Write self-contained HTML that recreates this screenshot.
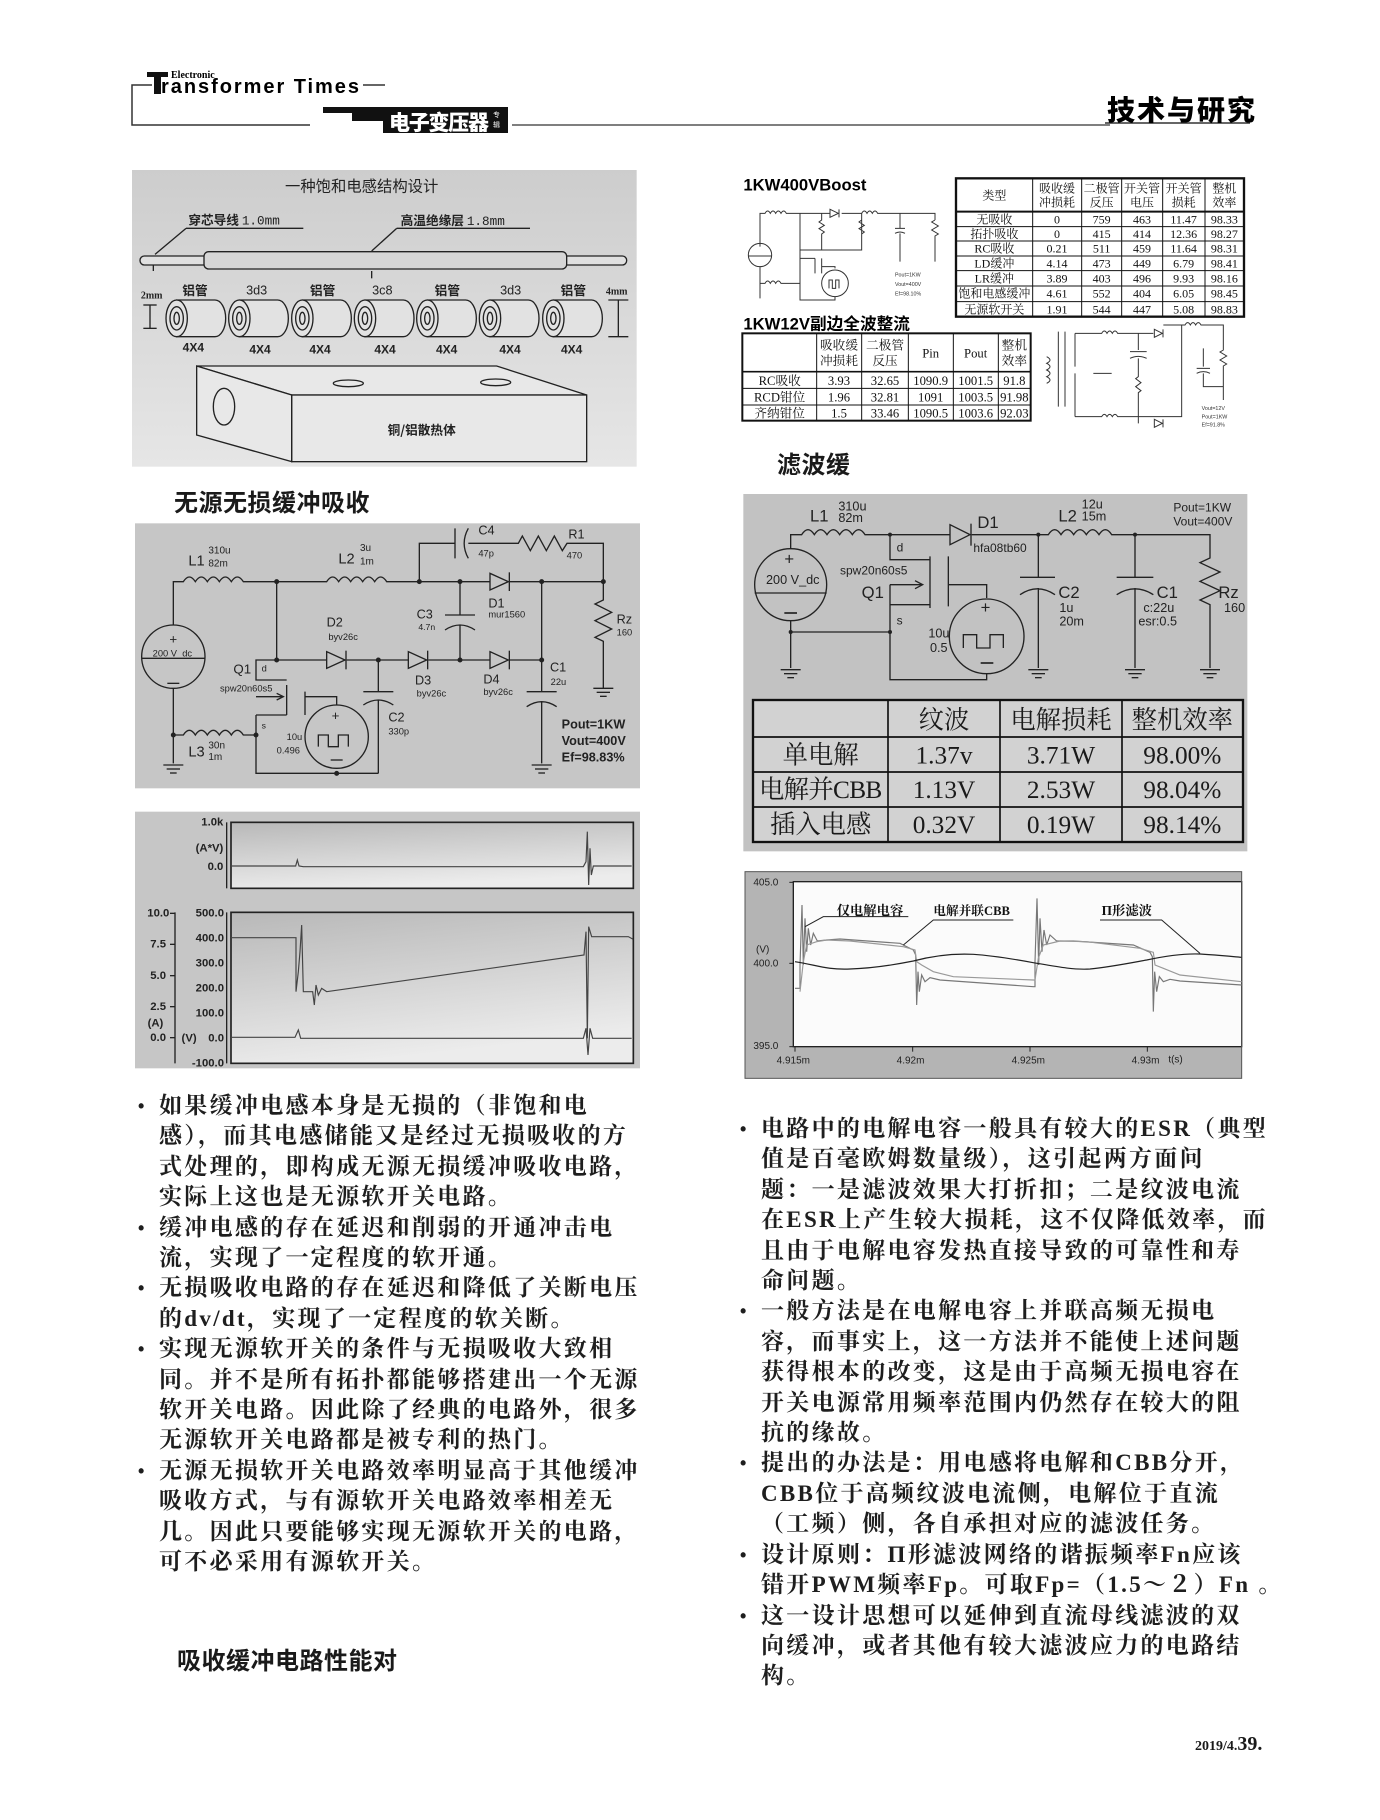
<!DOCTYPE html>
<html><head><meta charset="utf-8">
<style>
html,body{margin:0;padding:0;background:#fff;}
body{width:1380px;height:1820px;position:relative;overflow:hidden;font-family:"Liberation Serif","Noto Serif CJK SC",serif;color:#1a1a1a;}
.abs{position:absolute;}
svg{position:absolute;overflow:visible;}
.para{position:absolute;font-family:"Liberation Serif","Noto Serif CJK SC",serif;font-weight:700;font-size:23px;letter-spacing:2.3px;line-height:30.4px;white-space:nowrap;color:#1e1e1e;}
.para div{position:relative;}
.b{position:absolute;left:-21px;top:0;font-family:"Liberation Sans",sans-serif;font-size:18px;}
.h{position:absolute;font-family:"Liberation Sans","Noto Sans CJK SC",sans-serif;font-weight:700;font-size:24px;letter-spacing:0.5px;white-space:nowrap;color:#1a1a1a;}
</style></head><body>

<!-- HEADER -->
<svg style="left:0;top:0" width="1380" height="140" viewBox="0 0 1380 140">
  <polyline points="152,85 132,85 132,125 310,125" fill="none" stroke="#333" stroke-width="1.5"/>
  <line x1="363" y1="85" x2="385" y2="85" stroke="#333" stroke-width="1.5"/>
  <polygon points="323,107 508,107 508,133 383,133 383,121 352,121 352,113 323,113" fill="#111"/>
  <line x1="512" y1="125" x2="1110" y2="125" stroke="#555" stroke-width="1.5"/>
  <line x1="1105" y1="123" x2="1250" y2="123" stroke="#333" stroke-width="1.5"/>
  <rect x="154" y="72" width="7" height="22" fill="#111"/>
  <rect x="147" y="72" width="21" height="5" fill="#111"/>
  <text x="171" y="78" font-family="Liberation Serif,serif" font-weight="700" font-size="10">Electronic</text>
  <text x="161" y="93" font-family="Liberation Sans,sans-serif" font-weight="700" font-size="20" textLength="198">ransformer Times</text>
  <text x="389" y="130" font-family="Liberation Sans,'Noto Sans CJK SC',sans-serif" font-weight="900" font-size="21" fill="#fff" textLength="100">电子变压器</text>
  <text x="493" y="117" font-family="'Noto Sans CJK SC',sans-serif" font-size="7" fill="#fff">专</text>
  <text x="493" y="127" font-family="'Noto Sans CJK SC',sans-serif" font-size="7" fill="#fff">辑</text>
  <text x="1107" y="120" font-family="'Noto Sans CJK SC',sans-serif" font-weight="900" font-size="28" textLength="148">技术与研究</text>
</svg>

<!-- DIAGRAM 1: saturable inductor -->
<svg style="left:130px;top:165px" width="520" height="310" viewBox="0 0 1560 930">
  <defs><linearGradient id="g1" x1="0" y1="0" x2="0" y2="1"><stop offset="0" stop-color="#cdcdcd"/><stop offset="1" stop-color="#e6e6e6"/></linearGradient></defs>
  <rect x="6" y="15" width="1514" height="890" fill="url(#g1)"/>
  <g font-family="'Noto Sans CJK SC',sans-serif" fill="#222">
  <text x="695" y="80" font-size="46" text-anchor="middle">一种饱和电感结构设计</text>
  <text x="175" y="178" font-size="38" font-weight="700">穿芯导线 <tspan font-family="Liberation Mono,monospace" font-weight="400">1.0mm</tspan></text>
  <text x="812" y="180" font-size="38" font-weight="700">高温绝缘层 <tspan font-family="Liberation Mono,monospace" font-weight="400">1.8mm</tspan></text>
  </g>
  <g stroke="#222" stroke-width="4" fill="none">
   <line x1="168" y1="190" x2="520" y2="190"/><line x1="168" y1="190" x2="75" y2="268"/>
   <line x1="800" y1="190" x2="1200" y2="190"/><line x1="800" y1="190" x2="725" y2="258"/>
   <rect x="30" y="273" width="1460" height="27" rx="13" fill="#e0e0e0"/>
   <rect x="222" y="260" width="1088" height="52" rx="14" fill="#d6d6d6"/>
   <line x1="725" y1="318" x2="725" y2="340"/><line x1="70" y1="300" x2="70" y2="318"/>
   <line x1="40" y1="420" x2="80" y2="420"/><line x1="40" y1="490" x2="80" y2="490"/><line x1="60" y1="420" x2="60" y2="490"/>
   <line x1="1435" y1="405" x2="1495" y2="405"/><line x1="1435" y1="515" x2="1495" y2="515"/><line x1="1465" y1="405" x2="1465" y2="515"/>
  </g>
  <g font-family="'Noto Sans CJK SC',sans-serif" font-weight="700" font-size="38" fill="#222" text-anchor="middle">
   <text x="195" y="390">铝管</text><text x="380" y="388" font-weight="400" font-family="Liberation Sans,sans-serif">3d3</text>
   <text x="578" y="390">铝管</text><text x="757" y="388" font-weight="400" font-family="Liberation Sans,sans-serif">3c8</text>
   <text x="952" y="390">铝管</text><text x="1142" y="388" font-weight="400" font-family="Liberation Sans,sans-serif">3d3</text>
   <text x="1330" y="390">铝管</text>
   <text x="65" y="400" font-size="30" font-family="Liberation Serif,serif">2mm</text>
   <text x="1460" y="388" font-size="30" font-family="Liberation Serif,serif">4mm</text>
   <g font-family="Liberation Sans,sans-serif" font-size="36">
   <text x="190" y="560">4X4</text><text x="390" y="565">4X4</text><text x="570" y="565">4X4</text><text x="765" y="565">4X4</text><text x="950" y="565">4X4</text><text x="1140" y="565">4X4</text><text x="1325" y="565">4X4</text></g>
  </g>
  <g stroke="#222" stroke-width="4" fill="#e2e2e2">
   <g id="cyl"><path d="M140,405 L255,405 A32,55 0 0 1 255,515 L140,515 Z"/><ellipse cx="140" cy="460" rx="32" ry="55"/><ellipse cx="140" cy="460" rx="20" ry="35"/><ellipse cx="140" cy="460" rx="8" ry="18"/></g>
   <use href="#cyl" x="188"/><use href="#cyl" x="377"/><use href="#cyl" x="565"/><use href="#cyl" x="752"/><use href="#cyl" x="940"/><use href="#cyl" x="1130"/>
  </g>
  <g stroke="#222" stroke-width="4" fill="#e8e8e8">
   <polygon points="200,603 1100,603 1370,690 485,690"/>
   <rect x="485" y="690" width="885" height="200"/>
   <polygon points="200,603 485,690 485,890 200,810"/>
   <ellipse cx="655" cy="655" rx="45" ry="10"/><ellipse cx="1097" cy="652" rx="45" ry="10"/>
   <ellipse cx="282" cy="725" rx="32" ry="55"/>
  </g>
  <text x="875" y="808" font-family="'Noto Sans CJK SC',sans-serif" font-weight="700" font-size="38" text-anchor="middle" fill="#222">铜/铝散热体</text>
</svg>

<!-- RIGHT TOP: tables and small circuits -->
<svg style="left:735px;top:170px" width="520" height="265" viewBox="0 0 1560 795">
  <text x="25" y="62" font-family="Liberation Sans,sans-serif" font-weight="700" font-size="50">1KW400VBoost</text>
  <text x="25" y="478" font-family="Liberation Sans,'Noto Sans CJK SC',sans-serif" font-weight="700" font-size="50">1KW12V副边全波整流</text>
  <!-- table1 -->
  <g stroke="#111" fill="none">
   <rect x="663" y="25" width="864" height="415" stroke-width="7"/>
   <g stroke-width="3">
   <line x1="893" y1="25" x2="893" y2="440"/><line x1="1040" y1="25" x2="1040" y2="440"/><line x1="1160" y1="25" x2="1160" y2="440"/><line x1="1283" y1="25" x2="1283" y2="440"/><line x1="1410" y1="25" x2="1410" y2="440"/>
   <line x1="663" y1="125" x2="1527" y2="125" stroke-width="6"/>
   <line x1="663" y1="170" x2="1527" y2="170"/><line x1="663" y1="213" x2="1527" y2="213"/><line x1="663" y1="258" x2="1527" y2="258"/><line x1="663" y1="302" x2="1527" y2="302"/><line x1="663" y1="348" x2="1527" y2="348"/><line x1="663" y1="395" x2="1527" y2="395"/>
   </g>
  </g>
  <g font-family="'Liberation Serif','Noto Serif CJK SC',serif" font-size="36" fill="#111" text-anchor="middle">
   <text x="778" y="88">类型</text>
   <text x="966" y="68">吸收缓</text><text x="966" y="110">冲损耗</text>
   <text x="1100" y="68">二极管</text><text x="1100" y="110">反压</text>
   <text x="1221" y="68">开关管</text><text x="1221" y="110">电压</text>
   <text x="1346" y="68">开关管</text><text x="1346" y="110">损耗</text>
   <text x="1468" y="68">整机</text><text x="1468" y="110">效率</text>
   <g id="r1"></g>
   <text x="778" y="160">无吸收</text><text x="966" y="160">0</text><text x="1100" y="160">759</text><text x="1221" y="160">463</text><text x="1346" y="160">11.47</text><text x="1468" y="160">98.33</text>
   <text x="778" y="204">拓扑吸收</text><text x="966" y="204">0</text><text x="1100" y="204">415</text><text x="1221" y="204">414</text><text x="1346" y="204">12.36</text><text x="1468" y="204">98.27</text>
   <text x="778" y="248">RC吸收</text><text x="966" y="248">0.21</text><text x="1100" y="248">511</text><text x="1221" y="248">459</text><text x="1346" y="248">11.64</text><text x="1468" y="248">98.31</text>
   <text x="778" y="292">LD缓冲</text><text x="966" y="292">4.14</text><text x="1100" y="292">473</text><text x="1221" y="292">449</text><text x="1346" y="292">6.79</text><text x="1468" y="292">98.41</text>
   <text x="778" y="337">LR缓冲</text><text x="966" y="337">3.89</text><text x="1100" y="337">403</text><text x="1221" y="337">496</text><text x="1346" y="337">9.93</text><text x="1468" y="337">98.16</text>
   <text x="778" y="383">饱和电感缓冲</text><text x="966" y="383">4.61</text><text x="1100" y="383">552</text><text x="1221" y="383">404</text><text x="1346" y="383">6.05</text><text x="1468" y="383">98.45</text>
   <text x="778" y="430">无源软开关</text><text x="966" y="430">1.91</text><text x="1100" y="430">544</text><text x="1221" y="430">447</text><text x="1346" y="430">5.08</text><text x="1468" y="430">98.83</text>
  </g>
  <!-- table2 -->
  <g stroke="#111" fill="none">
   <rect x="22" y="490" width="865" height="262" stroke-width="6"/>
   <g stroke-width="3">
   <line x1="245" y1="490" x2="245" y2="752"/><line x1="380" y1="490" x2="380" y2="752"/><line x1="520" y1="490" x2="520" y2="752"/><line x1="655" y1="490" x2="655" y2="752"/><line x1="790" y1="490" x2="790" y2="752"/>
   <line x1="22" y1="605" x2="887" y2="605" stroke-width="5"/><line x1="22" y1="655" x2="887" y2="655"/><line x1="22" y1="705" x2="887" y2="705"/>
   </g>
  </g>
  <g font-family="'Liberation Serif','Noto Serif CJK SC',serif" font-size="38" fill="#111" text-anchor="middle">
   <text x="312" y="538">吸收缓</text><text x="312" y="585">冲损耗</text>
   <text x="450" y="538">二极管</text><text x="450" y="585">反压</text>
   <text x="587" y="562">Pin</text><text x="722" y="562">Pout</text>
   <text x="838" y="538">整机</text><text x="838" y="585">效率</text>
   <text x="134" y="645">RC吸收</text><text x="312" y="645">3.93</text><text x="450" y="645">32.65</text><text x="587" y="645">1090.9</text><text x="722" y="645">1001.5</text><text x="838" y="645">91.8</text>
   <text x="134" y="695">RCD钳位</text><text x="312" y="695">1.96</text><text x="450" y="695">32.81</text><text x="587" y="695">1091</text><text x="722" y="695">1003.5</text><text x="838" y="695">91.98</text>
   <text x="134" y="743">齐纳钳位</text><text x="312" y="743">1.5</text><text x="450" y="743">33.46</text><text x="587" y="743">1090.5</text><text x="722" y="743">1003.6</text><text x="838" y="743">92.03</text>
  </g>
  <!-- small boost circuit -->
  <g stroke="#333" stroke-width="3" fill="none">
   <path d="M75,230 V130 H90 q8,-14 16,0 q8,-14 16,0 q8,-14 16,0 q8,-14 16,0 H285 M320,130 H380 q8,-14 16,0 q8,-14 16,0 q8,-14 16,0 H600 V150 M600,150 l-10,6 20,12 -20,12 20,12 -10,6 V275 M495,130 V175 M480,175 h30 M480,190 q15,-8 30,0 M495,190 V275"/>
   <polygon points="285,118 285,142 310,130"/><line x1="312" y1="118" x2="312" y2="142"/>
   <circle cx="75" cy="255" r="35"/><line x1="40" y1="258" x2="110" y2="258"/>
   <path d="M75,290 V385 M75,340 H90 q8,-14 16,0 q8,-14 16,0 q8,-14 16,0 H195 V130 M195,240 H380 V130 M260,130 V150 l-8,6 16,10 -16,10 16,10 -8,6 V240 M380,150 l-8,6 16,10 -16,10 16,10 -8,6 M195,265 H240 M240,265 V310 M260,265 V310 M260,290 H300 V295"/>
   <circle cx="300" cy="340" r="40"/><path d="M282,355 V330 h10 v25 h10 v-25 h10 v25"/>
   <path d="M195,310 V390 H300 V380"/>
  </g>
  <g font-family="Liberation Sans,sans-serif" font-size="16" fill="#333">
   <text x="480" y="320">Pout=1KW</text><text x="480" y="348">Vout=400V</text><text x="480" y="376">Ef=98.10%</text>
  </g>
  <!-- small rectifier circuit -->
  <g stroke="#333" stroke-width="3" fill="none">
   <path d="M970,485 V710 M990,485 V710 M1020,490 H1100 q8,-14 16,0 q8,-14 16,0 q8,-14 16,0 H1255 M1285,465 H1350 q8,-14 16,0 q8,-14 16,0 q8,-14 16,0 H1465 V540 l-10,6 20,12 -20,12 20,12 -10,6 V690 M1020,740 H1100 q8,-14 16,0 q8,-14 16,0 q8,-14 16,0 H1340 V465 M1210,490 V540 M1185,545 h50 M1185,565 q25,-12 50,0 M1210,565 V620 l-8,6 16,12 -16,12 16,12 -8,6 V760 M1405,535 V590 M1385,595 h40 M1385,610 q20,-10 40,0 M1405,610 V650 H1465 M1020,490 V590 M1020,610 V740 M1075,610 H1130"/>
   <path d="M935,560 q20,10 0,20 q20,10 0,20 q20,10 0,20 q20,10 0,20"/>
   <polygon points="1258,478 1258,502 1282,490"/><line x1="1284" y1="478" x2="1284" y2="502"/>
   <polygon points="1258,748 1258,772 1282,760"/><line x1="1284" y1="748" x2="1284" y2="772"/>
  </g>
  <g font-family="Liberation Sans,sans-serif" font-size="16" fill="#333">
   <text x="1400" y="720">Vout=12V</text><text x="1400" y="745">Pout=1KW</text><text x="1400" y="770">Ef=91.8%</text>
  </g>
</svg>

<!-- headings -->
<div class="h" style="left:777px;top:445px;">滤波缓</div>
<div class="h" style="left:174px;top:483px;">无源无损缓冲吸收</div>
<div class="h" style="left:177px;top:1641px;">吸收缓冲电路性能对</div>

<!-- LEFT CIRCUIT -->
<svg style="left:130px;top:515px" width="520" height="280" viewBox="0 0 1560 840">
  <defs>
   <g id="gnd"><line x1="-30" y1="0" x2="30" y2="0"/><line x1="-20" y1="12" x2="20" y2="12"/><line x1="-10" y1="24" x2="10" y2="24"/></g>
  </defs>
  <rect x="15" y="25" width="1515" height="795" fill="#c6c6c6"/>
  <g stroke="#222" stroke-width="4" fill="none">
   <path d="M130,330 V200 H160 q18,-28 36,0 q18,-28 36,0 q18,-28 36,0 q18,-28 36,0 q18,-28 36,0 H590 q18,-28 36,0 q18,-28 36,0 q18,-28 36,0 q18,-28 36,0 q18,-28 36,0 H1080 M1140,200 H1420"/>
   <polygon points="1080,175 1080,225 1135,200"/><line x1="1138" y1="172" x2="1138" y2="228"/>
   <circle cx="130" cy="425" r="95"/><line x1="35" y1="430" x2="225" y2="430"/>
   <path d="M130,520 V745 M130,660 H160 q18,-28 36,0 q18,-28 36,0 q18,-28 36,0 q18,-28 36,0 q18,-28 36,0 H378"/>
   <path d="M868,200 V85 H975 M975,40 V130 M1015,40 q-25,45 0,90 M1015,85 H1165 l12,-22 24,44 24,-44 24,44 24,-44 24,44 14,-22 H1420 V200"/>
   <path d="M1420,200 V255 l-25,12 50,25 -50,25 50,25 -50,25 25,12 V520"/>
   <path d="M440,200 V435 H590 M650,435 H835 M895,435 H1080 M1140,435 H1235 V530 M1235,200 V435"/>
   <polygon points="590,410 590,460 645,435"/><line x1="648" y1="407" x2="648" y2="463"/>
   <polygon points="835,410 835,460 890,435"/><line x1="893" y1="407" x2="893" y2="463"/>
   <polygon points="1080,410 1080,460 1135,435"/><line x1="1138" y1="407" x2="1138" y2="463"/>
   <path d="M990,200 V300 M945,300 H1035 M945,345 q45,-30 90,0 M990,330 V435"/>
   <path d="M745,435 V530 M700,530 H790 M700,570 q45,-30 90,0 M745,555 V775"/>
   <path d="M1190,530 H1280 M1190,575 q45,-30 90,0 M1235,560 V745"/>
   <path d="M440,435 H378 V495 H470 M470,510 V600 M378,600 H470 M378,600 V775 H745 M378,660 V600 M378,545 H460 M525,530 V600 M525,545 H620 V570"/>
   <polyline points="440,535 460,545 440,555"/>
   <circle cx="620" cy="665" r="95"/>
   <path d="M565,695 V660 h30 v35 h30 v-35 h30 v35"/>
  </g>
  <g stroke="#222" stroke-width="4"><use href="#gnd" x="130" y="750"/><use href="#gnd" x="1420" y="520"/><use href="#gnd" x="1235" y="750"/></g>
  <g fill="#222" stroke="#222" stroke-width="3"><circle cx="440" cy="200" r="6"/><circle cx="868" cy="200" r="6"/><circle cx="990" cy="200" r="6"/><circle cx="1235" cy="200" r="6"/><circle cx="1420" cy="200" r="6"/><circle cx="440" cy="435" r="6"/><circle cx="745" cy="435" r="6"/><circle cx="990" cy="435" r="6"/><circle cx="1235" cy="435" r="6"/><circle cx="130" cy="660" r="6"/><circle cx="378" cy="660" r="6"/><circle cx="620" cy="775" r="6"/></g>
  <g font-family="Liberation Sans,sans-serif" fill="#222">
   <text x="175" y="152" font-size="44">L1</text><text x="235" y="115" font-size="30">310u</text><text x="235" y="155" font-size="30">82m</text>
   <text x="625" y="145" font-size="44">L2</text><text x="690" y="108" font-size="30">3u</text><text x="690" y="148" font-size="30">1m</text>
   <text x="1045" y="58" font-size="38">C4</text><text x="1045" y="125" font-size="28">47p</text>
   <text x="1315" y="70" font-size="38">R1</text><text x="1310" y="130" font-size="28">470</text>
   <text x="1075" y="278" font-size="38">D1</text><text x="1075" y="308" font-size="28">mur1560</text>
   <text x="860" y="310" font-size="38">C3</text><text x="865" y="345" font-size="26">4.7n</text>
   <text x="1460" y="325" font-size="38">Rz</text><text x="1460" y="362" font-size="28">160</text>
   <text x="590" y="335" font-size="38">D2</text><text x="595" y="375" font-size="28">byv26c</text>
   <text x="310" y="475" font-size="40">Q1</text><text x="395" y="470" font-size="28">d</text><text x="270" y="530" font-size="28">spw20n60s5</text><text x="395" y="640" font-size="26">s</text>
   <text x="855" y="508" font-size="38">D3</text><text x="860" y="545" font-size="28">byv26c</text>
   <text x="1060" y="505" font-size="38">D4</text><text x="1060" y="540" font-size="28">byv26c</text>
   <text x="1260" y="470" font-size="38">C1</text><text x="1262" y="510" font-size="28">22u</text>
   <text x="775" y="620" font-size="38">C2</text><text x="775" y="658" font-size="28">330p</text>
   <text x="175" y="725" font-size="44">L3</text><text x="235" y="700" font-size="30">30n</text><text x="235" y="735" font-size="30">1m</text>
   <text x="470" y="675" font-size="28">10u</text><text x="440" y="715" font-size="28">0.496</text>
   <text x="68" y="425" font-size="28">200 V_dc</text>
   <text x="118" y="385" font-size="40">+</text><text x="605" y="615" font-size="40">+</text>
   <text x="1295" y="640" font-size="38" font-weight="700">Pout=1KW</text><text x="1295" y="690" font-size="38" font-weight="700">Vout=400V</text><text x="1295" y="740" font-size="38" font-weight="700">Ef=98.83%</text>
  </g>
  <line x1="112" y1="505" x2="148" y2="505" stroke="#222" stroke-width="4"/><line x1="602" y1="735" x2="638" y2="735" stroke="#222" stroke-width="4"/>
</svg>

<!-- LEFT WAVEFORM -->
<svg style="left:130px;top:805px" width="520" height="270" viewBox="0 0 1560 810">
  <defs><linearGradient id="g2" x1="0" y1="0" x2="0.3" y2="1"><stop offset="0" stop-color="#b8b8b8"/><stop offset="1" stop-color="#ececec"/></linearGradient></defs>
  <rect x="15" y="20" width="1515" height="770" fill="#c6c6c6"/>
  <rect x="303" y="52" width="1207" height="198" fill="url(#g2)" stroke="#222" stroke-width="5"/>
  <rect x="303" y="322" width="1207" height="453" fill="url(#g2)" stroke="#222" stroke-width="5"/>
  <g stroke="#222" stroke-width="4" fill="none">
   <line x1="290" y1="52" x2="290" y2="250"/><line x1="290" y1="322" x2="290" y2="775"/><line x1="135" y1="322" x2="135" y2="775"/>
   <line x1="120" y1="325" x2="135" y2="325"/><line x1="120" y1="418" x2="135" y2="418"/><line x1="120" y1="512" x2="135" y2="512"/><line x1="120" y1="605" x2="135" y2="605"/><line x1="120" y1="698" x2="135" y2="698"/>
  </g>
  <g stroke="#444" stroke-width="3.5" fill="none">
   <path d="M303,183 H497 L502,165 L507,183 L520,185 H1360 L1368,170 L1372,80 L1376,240 L1380,130 L1384,210 L1390,183 H1505"/>
   <path d="M303,398 H498 V560 L505,500 L510,440 L515,360 L520,560 H548 L553,600 L558,540 L565,570 L575,550 L590,560 L1362,450 L1368,380 L1372,700 L1376,365 L1385,395 H1495 L1508,402"/>
   <path d="M303,697 H495 L505,675 L512,700 H1360 L1368,670 L1374,750 L1380,670 L1388,700 H1505"/>
  </g>
  <g font-family="Liberation Sans,sans-serif" font-weight="700" font-size="34" fill="#222" text-anchor="end">
   <text x="280" y="62">1.0k</text><text x="280" y="140">(A*V)</text><text x="280" y="195">0.0</text>
   <text x="282" y="335">500.0</text><text x="282" y="410">400.0</text><text x="282" y="485">300.0</text><text x="282" y="560">200.0</text><text x="282" y="635">100.0</text><text x="282" y="710"><tspan x="200" text-anchor="end">(V)</tspan><tspan x="282">0.0</tspan></text><text x="282" y="785">-100.0</text>
   <text x="118" y="335">10.0</text><text x="108" y="428">7.5</text><text x="108" y="522">5.0</text><text x="108" y="615">2.5</text><text x="100" y="665">(A)</text><text x="108" y="708">0.0</text>
  </g>
</svg>

<!-- RIGHT CIRCUIT + TABLE -->
<svg style="left:740px;top:488px" width="520" height="365" viewBox="0 0 1560 1095">
  <defs>
   <g id="gnd2"><line x1="-30" y1="0" x2="30" y2="0"/><line x1="-20" y1="12" x2="20" y2="12"/><line x1="-10" y1="24" x2="10" y2="24"/></g>
  </defs>
  <rect x="10" y="18" width="1512" height="1072" fill="#c2c2c2"/>
  <g stroke="#222" stroke-width="4" fill="none">
   <circle cx="152" cy="290" r="108"/><line x1="44" y1="315" x2="260" y2="315"/>
   <path d="M152,182 V140 H185 q19,-30 38,0 q19,-30 38,0 q19,-30 38,0 q19,-30 38,0 q19,-30 38,0 H630 M695,140 H925 q19,-30 38,0 q19,-30 38,0 q19,-30 38,0 q19,-30 38,0 q19,-30 38,0 H1410 V210 l-30,14 60,28 -60,28 60,28 -60,28 30,14 V540"/>
   <polygon points="630,110 630,170 690,140"/><line x1="693" y1="107" x2="693" y2="173"/>
   <path d="M450,140 V215 H570 M570,205 V360 M625,205 V355 M625,290 H740 V330 M450,290 H545 M450,350 H570 M450,290 V575 H740 V555"/>
   <polyline points="525,278 548,290 525,302"/>
   <circle cx="740" cy="445" r="112"/>
   <path d="M670,480 V440 h40 v40 h40 v-40 h40 v40"/>
   <path d="M152,398 V540 M152,432 H450"/>
   <path d="M895,140 V268 M840,268 H945 M840,320 q52,-35 105,0 M895,300 V540"/>
   <path d="M1185,140 V268 M1130,268 H1240 M1130,320 q55,-35 110,0 M1185,300 V540"/>
  </g>
  <g stroke="#222" stroke-width="4"><use href="#gnd2" x="152" y="545"/><use href="#gnd2" x="895" y="545"/><use href="#gnd2" x="1185" y="545"/><use href="#gnd2" x="1410" y="545"/></g>
  <g fill="#222"><circle cx="450" cy="140" r="6"/><circle cx="895" cy="140" r="6"/><circle cx="1185" cy="140" r="6"/><circle cx="152" cy="432" r="6"/><circle cx="450" cy="432" r="6"/></g>
  <g font-family="Liberation Sans,sans-serif" fill="#222">
   <text x="210" y="100" font-size="50">L1</text><text x="295" y="68" font-size="38">310u</text><text x="295" y="102" font-size="38">82m</text>
   <text x="712" y="120" font-size="50">D1</text><text x="700" y="192" font-size="36">hfa08tb60</text>
   <text x="955" y="100" font-size="50">L2</text><text x="1025" y="62" font-size="38">12u</text><text x="1025" y="98" font-size="38">15m</text>
   <text x="1300" y="70" font-size="36">Pout=1KW</text><text x="1300" y="112" font-size="36">Vout=400V</text>
   <text x="470" y="190" font-size="36">d</text><text x="300" y="260" font-size="36">spw20n60s5</text>
   <text x="365" y="330" font-size="50">Q1</text><text x="470" y="410" font-size="36">s</text>
   <text x="78" y="288" font-size="38">200 V_dc</text>
   <text x="133" y="230" font-size="50">+</text><line x1="133" y1="375" x2="171" y2="375" stroke="#222" stroke-width="5"/>
   <text x="722" y="375" font-size="50">+</text><line x1="722" y1="525" x2="760" y2="525" stroke="#222" stroke-width="5"/>
   <text x="565" y="448" font-size="38">10u</text><text x="570" y="492" font-size="38">0.5</text>
   <text x="955" y="330" font-size="50">C2</text><text x="958" y="372" font-size="38">1u</text><text x="958" y="412" font-size="38">20m</text>
   <text x="1250" y="330" font-size="50">C1</text><text x="1210" y="372" font-size="38">c:22u</text><text x="1195" y="412" font-size="38">esr:0.5</text>
   <text x="1435" y="330" font-size="50">Rz</text><text x="1452" y="372" font-size="38">160</text>
  </g>
  <!-- table -->
  <rect x="39" y="636" width="1470" height="426" fill="#d2d2d2" stroke="#111" stroke-width="7"/>
  <g stroke="#111" stroke-width="5">
   <line x1="444" y1="636" x2="444" y2="1062"/><line x1="780" y1="636" x2="780" y2="1062"/><line x1="1146" y1="636" x2="1146" y2="1062"/>
   <line x1="39" y1="747" x2="1509" y2="747"/><line x1="39" y1="852" x2="1509" y2="852"/><line x1="39" y1="957" x2="1509" y2="957"/>
  </g>
  <g font-family="'Liberation Serif','Noto Serif CJK SC',serif" font-size="76" fill="#1a1a1a" text-anchor="middle">
   <text x="612" y="722">纹波</text><text x="963" y="722">电解损耗</text><text x="1327" y="722">整机效率</text>
   <text x="242" y="826">单电解</text><text x="612" y="826">1.37v</text><text x="963" y="826">3.71W</text><text x="1327" y="826">98.00%</text>
   <text x="242" y="930" textLength="370">电解并CBB</text><text x="612" y="930">1.13V</text><text x="963" y="930">2.53W</text><text x="1327" y="930">98.04%</text>
   <text x="242" y="1035">插入电感</text><text x="612" y="1035">0.32V</text><text x="963" y="1035">0.19W</text><text x="1327" y="1035">98.14%</text>
  </g>
</svg>

<!-- RIGHT CHART -->
<svg style="left:740px;top:865px" width="520" height="220" viewBox="0 0 1560 660">
  <rect x="15" y="20" width="1490" height="620" fill="#b4b4b4"/>
  <rect x="160" y="50" width="1345" height="495" fill="#fbfbfb" stroke="#222" stroke-width="4"/>
  <rect x="15" y="20" width="1490" height="620" fill="none" stroke="#555" stroke-width="3"/>
  <g stroke="#222" stroke-width="3"><line x1="148" y1="52" x2="160" y2="52"/><line x1="148" y1="295" x2="160" y2="295"/><line x1="148" y1="545" x2="160" y2="545"/>
   <line x1="165" y1="545" x2="165" y2="560"/><line x1="518" y1="545" x2="518" y2="560"/><line x1="870" y1="545" x2="870" y2="560"/><line x1="1222" y1="545" x2="1222" y2="560"/></g>
  <g fill="none" stroke-width="3.5">
   <path stroke="#777" d="M165,370 H180 V300 L186,120 L190,300 L195,160 L200,260 L205,190 L212,240 L220,205 L232,228 L260,225 L300,222 L480,235 L520,255 L527,270 L530,420 L534,320 L538,380 L545,330 L555,350 L570,338 L600,345 L880,365 H885 V290 L891,100 L896,300 L900,160 L906,260 L912,195 L920,240 L930,210 L950,228 L1000,228 L1180,240 L1230,262 L1237,275 L1240,440 L1244,320 L1250,380 L1258,335 L1270,350 L1290,343 L1320,348 L1505,360"/>
   <path stroke="#999" d="M180,380 L190,290 L200,240 L230,230 L260,225 L330,228 L490,245 L525,255 L530,290 L545,300 L580,320 L640,335 L880,345 H885 L895,280 L910,240 L960,228 L1040,230 L1200,250 L1240,262 L1245,300 L1270,310 L1320,330 L1505,350"/>
   <path stroke="#222" d="M165,290 C230,300 260,315 330,312 C400,310 460,300 520,288 C580,272 640,265 700,268 C760,272 820,282 880,293 C950,305 1000,315 1050,312 C1110,306 1160,296 1220,285 C1280,272 1330,265 1380,267 C1430,270 1470,274 1505,277"/>
  </g>
  <g stroke="#222" stroke-width="3" fill="none">
   <path d="M195,185 L250,155 H505"/><path d="M490,240 L580,165 H820"/><path d="M1380,265 L1265,165 H1080"/>
  </g>
  <g font-family="'Liberation Serif','Noto Serif CJK SC',serif" font-weight="700" font-size="40" fill="#111">
   <text x="290" y="150">仅电解电容</text><text x="580" y="150" font-size="38">电解并联CBB</text><text x="1085" y="150">П形滤波</text>
  </g>
  <g font-family="Liberation Sans,sans-serif" font-size="30" fill="#222">
   <text x="40" y="62">405.0</text><text x="48" y="262">(V)</text><text x="40" y="305">400.0</text><text x="40" y="552">395.0</text>
   <text x="110" y="595">4.915m</text><text x="470" y="595">4.92m</text><text x="815" y="595">4.925m</text><text x="1175" y="595">4.93m</text><text x="1285" y="592">t(s)</text>
  </g>
</svg>

<!-- LEFT TEXT -->
<div class="para" style="left:159px;top:1091px;">
<div><span class="b">•</span>如果缓冲电感本身是无损的（非饱和电</div>
<div>感），而其电感储能又是经过无损吸收的方</div>
<div>式处理的，即构成无源无损缓冲吸收电路，</div>
<div>实际上这也是无源软开关电路。</div>
<div><span class="b">•</span>缓冲电感的存在延迟和削弱的开通冲击电</div>
<div>流，实现了一定程度的软开通。</div>
<div><span class="b">•</span>无损吸收电路的存在延迟和降低了关断电压</div>
<div>的dv/dt，实现了一定程度的软关断。</div>
<div><span class="b">•</span>实现无源软开关的条件与无损吸收大致相</div>
<div>同。并不是所有拓扑都能够搭建出一个无源</div>
<div>软开关电路。因此除了经典的电路外，很多</div>
<div>无源软开关电路都是被专利的热门。</div>
<div><span class="b">•</span>无源无损软开关电路效率明显高于其他缓冲</div>
<div>吸收方式，与有源软开关电路效率相差无</div>
<div>几。因此只要能够实现无源软开关的电路，</div>
<div>可不必采用有源软开关。</div>
</div>

<!-- RIGHT TEXT -->
<div class="para" style="left:761px;top:1114px;">
<div><span class="b">•</span>电路中的电解电容一般具有较大的ESR（典型</div>
<div>值是百毫欧姆数量级），这引起两方面问</div>
<div>题：一是滤波效果大打折扣；二是纹波电流</div>
<div>在ESR上产生较大损耗，这不仅降低效率，而</div>
<div>且由于电解电容发热直接导致的可靠性和寿</div>
<div>命问题。</div>
<div><span class="b">•</span>一般方法是在电解电容上并联高频无损电</div>
<div>容，而事实上，这一方法并不能使上述问题</div>
<div>获得根本的改变，这是由于高频无损电容在</div>
<div>开关电源常用频率范围内仍然存在较大的阻</div>
<div>抗的缘故。</div>
<div><span class="b">•</span>提出的办法是：用电感将电解和CBB分开，</div>
<div>CBB位于高频纹波电流侧，电解位于直流</div>
<div>（工频）侧，各自承担对应的滤波任务。</div>
<div><span class="b">•</span>设计原则：Π形滤波网络的谐振频率Fn应该</div>
<div>错开PWM频率Fp。可取Fp=（1.5～２）Fn 。</div>
<div><span class="b">•</span>这一设计思想可以延伸到直流母线滤波的双</div>
<div>向缓冲，或者其他有较大滤波应力的电路结</div>
<div>构。</div>
</div>

<div class="abs" style="left:1195px;top:1733px;font-family:'Liberation Serif',serif;font-weight:700;font-size:14px;white-space:nowrap;">2019/4.<span style="font-size:20px">39.</span></div>

</body></html>
